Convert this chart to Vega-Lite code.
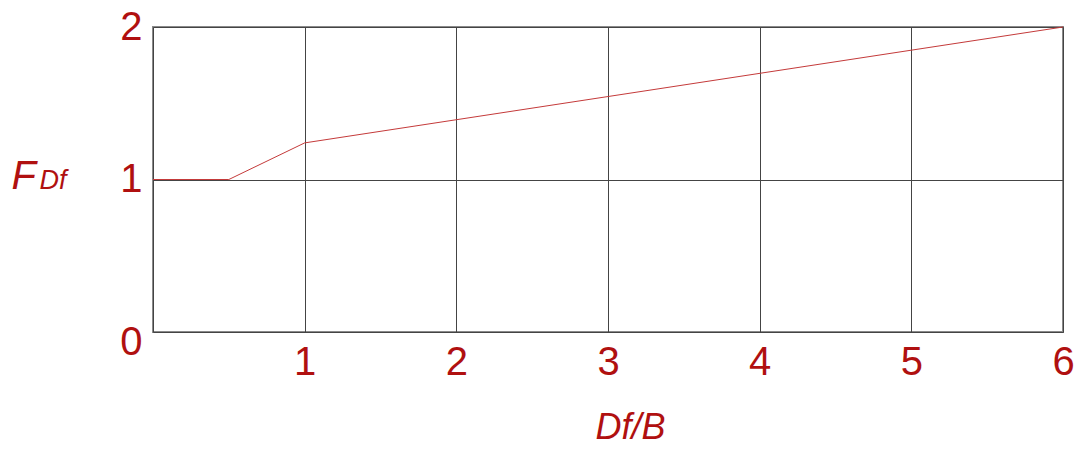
{
  "$schema": "https://vega.github.io/schema/vega-lite/v6.json",
  "autosize": "none",
  "width": 910,
  "height": 305,
  "padding": {"left": 153, "top": 27, "right": 18, "bottom": 118},
  "background": "white",
  "config": {
    "view": {"stroke": "#8a8a8a", "strokeWidth": 2},
    "font": "Liberation Sans"
  },
  "data": {"values": [
    {"x": 0, "y": 1},
    {"x": 0.5, "y": 1},
    {"x": 1, "y": 1.24},
    {"x": 6, "y": 2}
  ]},
  "layer": [
    {
      "mark": {"type": "line", "color": "#c43a3a", "strokeWidth": 1},
      "encoding": {
        "x": {
          "field": "x", "type": "quantitative",
          "scale": {"domain": [0, 6], "nice": false, "zero": false},
          "axis": {
            "values": [0, 1, 2, 3, 4, 5, 6],
            "labelExpr": "datum.value == 0 ? '' : format(datum.value, 'd')",
            "grid": true, "gridColor": "#444", "gridWidth": 1,
            "domain": false, "ticks": false,
            "labelFontSize": 40, "labelColor": "#b01010", "labelPadding": 10,
            "labelBaseline": "top", "labelFlush": false,
            "title": "Df/B", "titleFontSize": 36, "titleFontStyle": "italic",
            "titleFontWeight": "normal", "titleColor": "#b01010",
            "titleX": 477, "titleY": 106, "titleAlign": "center", "titleBaseline": "alphabetic"
          }
        },
        "y": {
          "field": "y", "type": "quantitative",
          "scale": {"domain": [0, 2], "nice": false, "zero": false},
          "axis": {
            "values": [0, 1, 2],
            "labelExpr": "format(datum.value, 'd')",
            "grid": true, "gridColor": "#444", "gridWidth": 1,
            "domain": false, "ticks": false,
            "labelFontSize": 40, "labelColor": "#b01010", "labelPadding": 11,
            "labelFlush": false,
            "labelLineHeight": 20,
            "labelBaseline": {"condition": {"test": "datum.value == 0", "value": "line-top"}, "value": "middle"},
            "title": "F", "titleFontSize": 40, "titleFontStyle": "italic",
            "titleFontWeight": "normal", "titleColor": "#b01010",
            "titleAngle": 0, "titleAlign": "left", "titleBaseline": "alphabetic",
            "titleX": -142, "titleY": 161
          }
        }
      }
    },
    {
      "mark": {"type": "line", "opacity": 0},
      "encoding": {
        "x": {"field": "x", "type": "quantitative"},
        "y": {
          "field": "y", "type": "quantitative",
          "scale": {"domain": [0, 2], "nice": false, "zero": false},
          "axis": {
            "orient": "left",
            "labels": false, "ticks": false, "domain": false, "grid": false,
            "title": "Df", "titleFontSize": 27, "titleFontStyle": "italic",
            "titleFontWeight": "normal", "titleColor": "#b01010",
            "titleAngle": 0, "titleAlign": "left", "titleBaseline": "alphabetic",
            "titleX": -114, "titleY": 161
          }
        }
      }
    }
  ],
  "resolve": {"axis": {"y": "independent"}}
}
